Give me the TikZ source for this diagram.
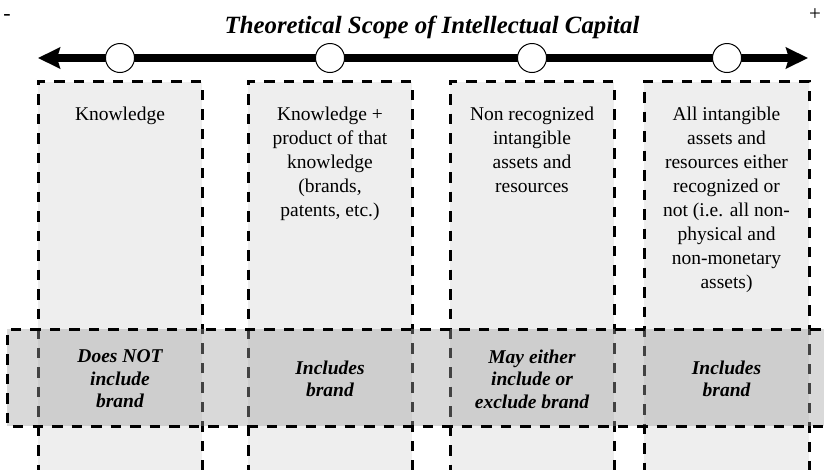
\documentclass[tikz,border=0pt]{standalone}
\usepackage{fontspec}
\setmainfont{Liberation Serif}
\usetikzlibrary{arrows.meta}
\definecolor{colfill}{RGB}{238,238,238}
\definecolor{bandfill}{RGB}{162,162,162}
\tikzset{axistip/.tip={Stealth[length=22pt, width=21pt, inset=3pt]}}
\begin{document}
\begin{tikzpicture}[x=1pt,y=-1pt,
  colbox/.style={draw=black, line width=3pt, dash pattern=on 10.5pt off 9pt, fill=colfill,
    minimum width=164pt, minimum height=420pt, anchor=north, inner sep=0pt},
  bandbox/.style={line width=3pt, dash pattern=on 10.5pt off 9pt},
  coltext/.style={anchor=north, align=center, inner sep=0pt, font=\fontsize{19.5}{24}\selectfont},
  bandtext/.style={anchor=center, align=center, inner sep=0pt, font=\fontsize{19.5}{22.5}\selectfont\bfseries\itshape},
  knob/.style={circle, draw=black, line width=1pt, fill=white, minimum size=29pt, inner sep=0pt}]
\useasboundingbox (0,0) rectangle (824,469);
\clip (0,0) rectangle (824,469);
% columns
\node[colbox] (c1) at (120,80) {};
\node[colbox] (c2) at (330,80) {};
\node[colbox] (c3) at (532,80) {};
\node[colbox, minimum width=165pt] (c4) at (726.5,80) {};
% column texts
\node[coltext] (t1) at (120,107) {Knowledge};
\node[coltext] (t2) at (330,107) {Knowledge +\\product of that\\knowledge\\(brands,\\patents, etc.)};
\node[coltext] (t3) at (532,107) {Non recognized\\intangible\\assets and\\resources};
\node[coltext] (t4) at (726.5,107) {All intangible\\assets and\\resources either\\recognized or\\not (i.e. all non-\\physical and\\non-monetary\\assets)};
% band
\fill[bandfill, opacity=0.41] (7,329) rectangle (840,426);
\draw[bandbox] (840,329) -- (7,329) -- (7,426) -- (840,426);
\node[bandtext] (b1) at (120,379) {Does NOT\\include\\brand};
\node[bandtext] (b2) at (330,379) {Includes\\brand};
\node[bandtext] (b3) at (532,379) {May either\\include or\\exclude brand};
\node[bandtext] (b4) at (726.5,379) {Includes\\brand};
% axis
\coordinate (L) at (38,58);
\coordinate (R) at (808,58);
\draw[line width=7.5pt, {axistip}-{axistip}] (L) -- (R);
\node[knob] (k1) at (120,58) {};
\node[knob] (k2) at (330,58) {};
\node[knob] (k3) at (532,58) {};
\node[knob] (k4) at (727,58) {};
% title and signs
\node[anchor=base, inner sep=0pt, font=\fontsize{24.8}{28}\selectfont\bfseries\itshape] (title) at (432,33) {Theoretical Scope of Intellectual Capital};
\node[anchor=center, inner sep=0pt, font=\fontsize{22}{24}\selectfont] (minus) at (7,17) {-};
\node[anchor=center, inner sep=0pt, font=\fontsize{21}{24}\selectfont] (plus) at (815,15) {+};
\end{tikzpicture}
\end{document}
